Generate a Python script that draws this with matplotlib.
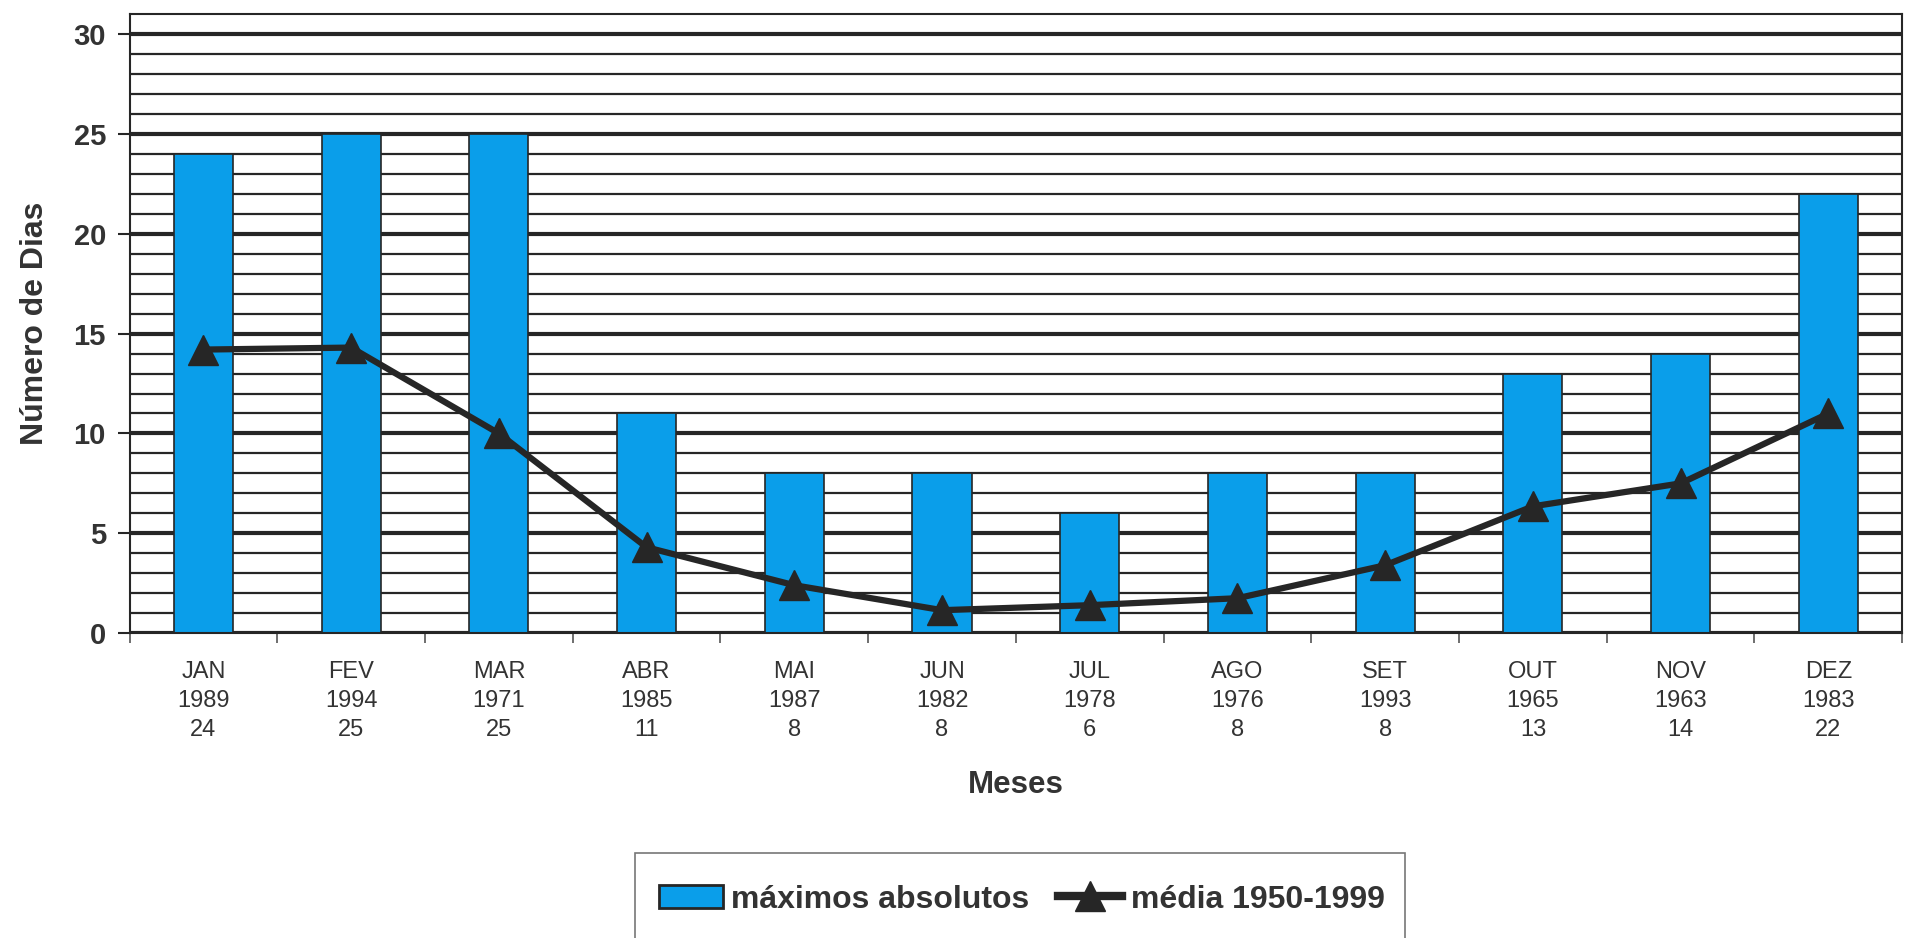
import matplotlib.pyplot as plt
from matplotlib.lines import Line2D
from matplotlib.patches import Patch, Rectangle
import numpy as np

meses = ["JAN", "FEV", "MAR", "ABR", "MAI", "JUN", "JUL", "AGO", "SET", "OUT", "NOV", "DEZ"]
anos = ["1989", "1994", "1971", "1985", "1987", "1982", "1978", "1976", "1993", "1965", "1963", "1983"]
maximos = [24, 25, 25, 11, 8, 8, 6, 8, 8, 13, 14, 22]
media = [14.2, 14.3, 10.0, 4.3, 2.4, 1.15, 1.4, 1.75, 3.4, 6.35, 7.5, 11.0]

plt.rcParams['font.family'] = ['Liberation Sans', 'DejaVu Sans']

azul = "#0a9eea"
escuro = "#262626"
texto = "#333333"

fig = plt.figure(figsize=(19.06, 9.38), dpi=100)
ax = fig.add_axes([0.068, 0.325, 0.93, 0.66])

x = np.arange(len(meses))
# grade: fina a cada 1, grossa a cada 5
for v in range(0, 31):
    if v % 5 == 0:
        ax.axhline(v, color=escuro, lw=3.0, zorder=1)
    else:
        ax.axhline(v, color=escuro, lw=1.6, zorder=1)

ax.bar(x, maximos, width=0.40, color=azul, edgecolor=escuro, linewidth=1.2, zorder=2)
ax.plot(x, media, color=escuro, lw=4.5, marker="^", markersize=21, zorder=3)

ax.set_xlim(-0.5, len(meses) - 0.5)
ax.set_ylim(0, 31)

ax.set_yticks([0, 5, 10, 15, 20, 25, 30])
ax.tick_params(axis="y", length=9, width=1.5, color=escuro, labelsize=21, pad=8)
for t in ax.get_yticklabels():
    t.set_fontweight("bold")
    t.set_color(texto)

labels = [m + "\n" + a + "\n" + str(v) for m, a, v in zip(meses, anos, maximos)]
ax.set_xticks(x)
ax.set_xticklabels(labels, fontsize=17, color=texto, linespacing=1.4)
ax.tick_params(axis="x", which="major", length=0, pad=20)
ax.set_xticks(np.arange(-0.5, len(meses) + 0.5, 1), minor=True)
ax.tick_params(axis="x", which="minor", length=7, width=1.2, color="#555555")

for s in ax.spines.values():
    s.set_color(escuro)
    s.set_linewidth(1.5)

ax.set_ylabel("Número de Dias", fontsize=23, fontweight="bold", color=texto, labelpad=17)
ax.set_xlabel("Meses", fontsize=22.5, fontweight="bold", color=texto, labelpad=21)

# caixa da legenda (cortada na borda inferior, como no original)
fig.patches.append(Rectangle((0.333, -0.02), 0.404, 0.1106, transform=fig.transFigure,
                             facecolor="white", edgecolor="#777777", lw=1.2, zorder=0))

handles = [Patch(facecolor=azul, edgecolor=escuro, linewidth=2),
           Line2D([0], [0], color=escuro, lw=6, marker="^", markersize=21)]
leg = fig.legend(handles, ["máximos absolutos", "média 1950-1999"], loc="center",
                 bbox_to_anchor=(0.536, 0.041), ncol=2, frameon=False,
                 prop={"size": 23, "weight": "bold"}, handlelength=2.0, handleheight=0.7,
                 handletextpad=0.27, columnspacing=0.9)
for t in leg.get_texts():
    t.set_color(texto)

fig.savefig("out.png", dpi=100)
